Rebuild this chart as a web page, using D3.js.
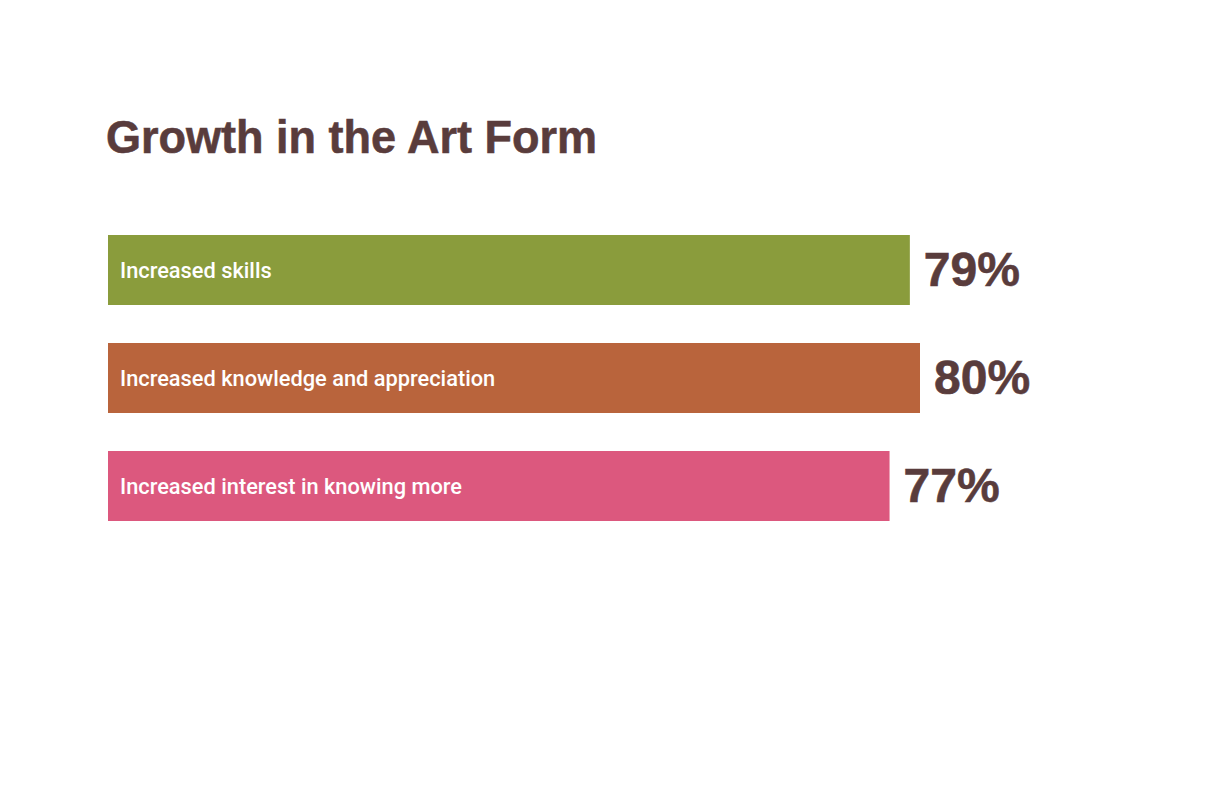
<!DOCTYPE html>
<html>
<head>
<meta charset="utf-8">
<script src="https://cdn.jsdelivr.net/npm/d3@7"></script>
<style>
  html, body { margin: 0; padding: 0; background: #fff; }
  svg { display: block; }
</style>
</head>
<body>
<svg id="chart" width="1224" height="792"></svg>
<script>
const title = "Growth in the Art Form";
const categories = ["Increased skills", "Increased knowledge and appreciation", "Increased interest in knowing more"];
const values = [79, 80, 77];
const valueLabels = ["79%", "80%", "77%"];
const colors = ["#8a9c3c", "#b9643c", "#dc587e"];

const svg = d3.select("#chart");
const textColor = "#593c3c";

svg.append("text")
  .attr("x", 106).attr("y", 153)
  .attr("fill", textColor)
  .attr("stroke", textColor)
  .attr("stroke-width", 0.6)
  .style("font-family", "'Liberation Sans', Arial, sans-serif")
  .style("font-weight", 700)
  .style("font-size", "47px")
  .attr("textLength", 491)
  .attr("lengthAdjust", "spacingAndGlyphs")
  .text(title);

const x = d3.scaleLinear().domain([0, 80]).range([108, 920]);
const y = d3.scaleBand().domain(categories).range([235, 521]).paddingInner(38 / 108).paddingOuter(0);

const g = svg.append("g");
categories.forEach((c, i) => {
  const top = y(c);
  const h = y.bandwidth();
  g.append("rect")
    .attr("x", x(0)).attr("y", top)
    .attr("width", x(values[i]) - x(0))
    .attr("height", h)
    .attr("fill", colors[i]);
  g.append("text")
    .attr("x", x(0) + 12).attr("y", top + h / 2 + 8)
    .attr("fill", "#fff")
    .style("font-family", "Roboto, sans-serif")
    .style("font-weight", 500)
    .style("font-size", "21.8px")
    .text(c);
  g.append("text")
    .attr("x", x(values[i]) + 14).attr("y", top + h / 2 + 16)
    .attr("fill", textColor)
    .attr("stroke", textColor)
    .attr("stroke-width", 0.6)
    .style("font-family", "'Liberation Sans', Arial, sans-serif")
    .style("font-weight", 700)
    .style("font-size", "48px")
    .text(valueLabels[i]);
});
</script>
</body>
</html>
